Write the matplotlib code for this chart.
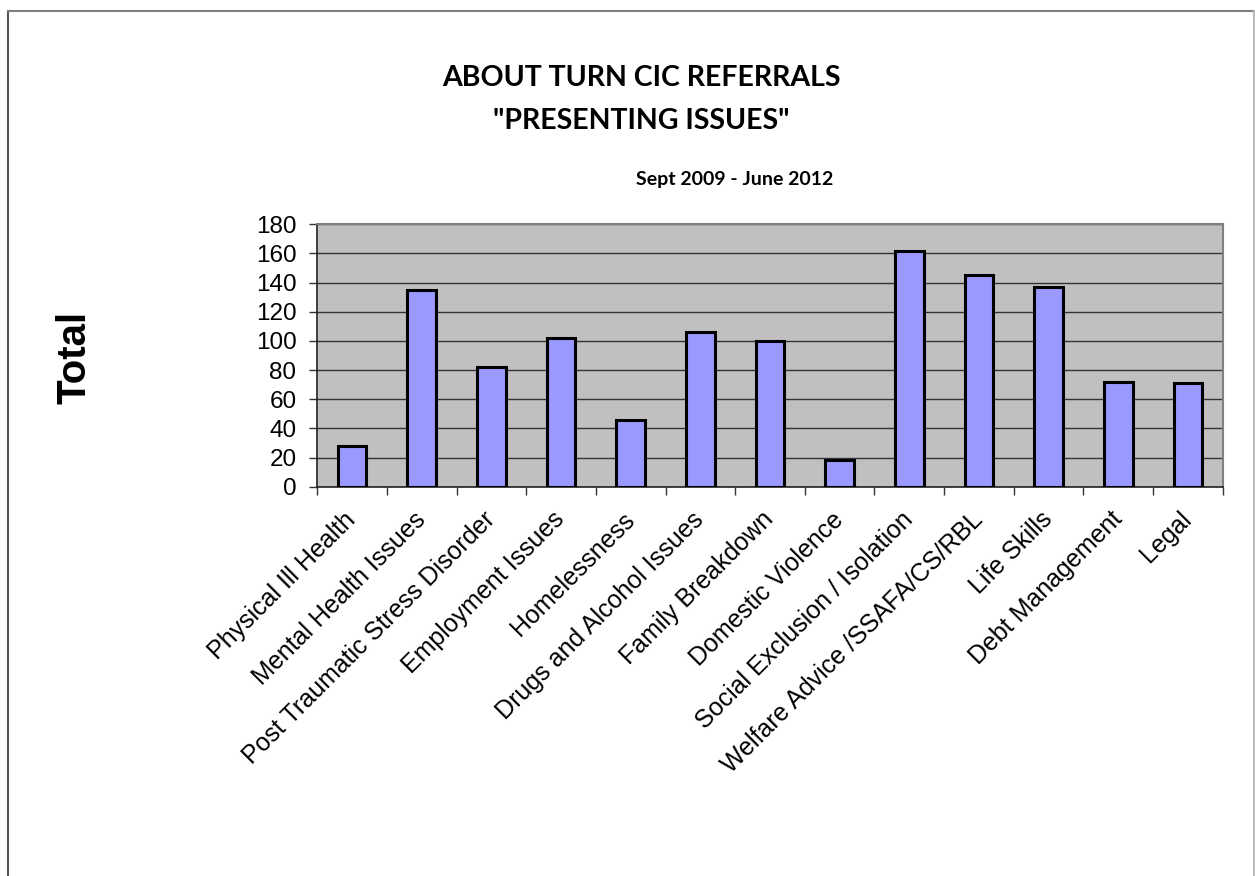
import matplotlib
matplotlib.use("Agg")
import matplotlib.pyplot as plt
from matplotlib.lines import Line2D
import numpy as np

categories = ["Physical Ill Health", "Mental Health Issues", "Post Traumatic Stress Disorder",
              "Employment Issues", "Homelessness", "Drugs and Alcohol Issues", "Family Breakdown",
              "Domestic Violence", "Social Exclusion / Isolation", "Welfare Advice /SSAFA/CS/RBL",
              "Life Skills", "Debt Management", "Legal"]
totals = [28, 135, 82, 102, 46, 106, 100, 18, 162, 145, 137, 72, 71]
y_ticks = [0, 20, 40, 60, 80, 100, 120, 140, 160, 180]

W, H = 1255, 876
fig = plt.figure(figsize=(W / 100, H / 100), dpi=100)
fig.patch.set_facecolor("white")

l, r, t, b = 317.3, 1222.7, 224.3, 486.7
ax = fig.add_axes([l / W, 1 - b / H, (r - l) / W, (b - t) / H])
ax.set_facecolor("#C0C0C0")

x = np.arange(len(categories))
ax.bar(x, totals, width=0.41, color="#9999FF", edgecolor="black", linewidth=2.2, zorder=3)

ax.set_xlim(-0.5, len(categories) - 0.5)
ax.set_ylim(0, 180)
ax.set_yticks(y_ticks)
ax.set_yticklabels([str(v) for v in y_ticks], fontsize=17.5, family="Liberation Sans")
ax.yaxis.grid(True, color="#333333", linewidth=1.0, zorder=1)
ax.set_axisbelow(True)

ax.set_xticks(x)
ax.set_xticklabels(categories, rotation=45, ha="right", va="center", rotation_mode="anchor",
                   fontsize=18, family="Liberation Sans")
ax.set_xticks(np.arange(-0.5, len(categories) + 0.5, 1), minor=True)
ax.tick_params(axis="x", which="major", length=0, pad=21)
ax.tick_params(axis="x", which="minor", length=6, color="#333333", width=1)
ax.tick_params(axis="y", length=6, color="#333333", width=1, pad=9)

for s in ["top", "right"]:
    ax.spines[s].set_color("#808080")
    ax.spines[s].set_linewidth(1.5)
for s in ["left", "bottom"]:
    ax.spines[s].set_color("#222222")
    ax.spines[s].set_linewidth(1.2)

tfont = dict(family="Lato", weight="bold", ha="center", va="center")
fig.text(641 / W, 1 - 78 / H, "ABOUT TURN CIC REFERRALS", fontsize=20.5, **tfont)
fig.text(641 / W, 1 - 121 / H, '"PRESENTING ISSUES"', fontsize=20.5, **tfont)
fig.text(735 / W, 1 - 180 / H, "Sept 2009 - June 2012", fontsize=14, **tfont)

fig.text(75 / W, 1 - 357 / H, "Total", rotation=90, fontsize=29, weight="bold",
         family="Liberation Sans", ha="center", va="center")

bc = "#808080"
fig.add_artist(Line2D([8 / W, 8 / W], [0, 1 - 11 / H], transform=fig.transFigure, color="#555555", lw=1.5))
fig.add_artist(Line2D([8 / W, 1254 / W], [1 - 11 / H, 1 - 11 / H], transform=fig.transFigure, color=bc, lw=1.5))
fig.add_artist(Line2D([1254 / W, 1254 / W], [0, 1 - 11 / H], transform=fig.transFigure, color="#BBBBBB", lw=1.5))

fig.savefig("out.png", dpi=100)
